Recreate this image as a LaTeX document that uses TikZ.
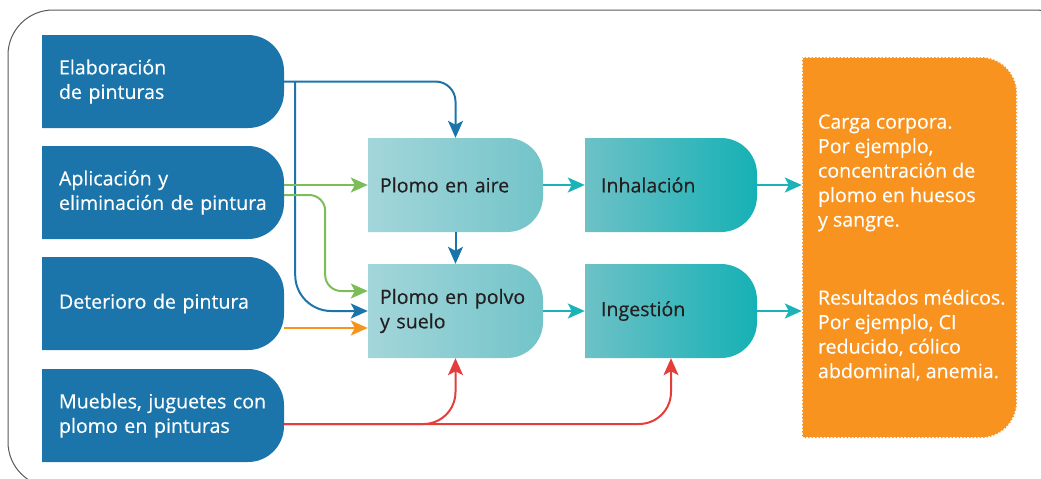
\documentclass[tikz,border=0pt]{standalone}
\usepackage{fontspec}
\setmainfont{Open Sans}
\newfontfamily\boxfam{Open Sans}[FakeBold=0.4]
\usetikzlibrary{arrows.meta}
\definecolor{srcblue}{HTML}{1B75AB}
\definecolor{airleft}{HTML}{A3D6DA}
\definecolor{airright}{HTML}{72C4C9}
\definecolor{inhleft}{HTML}{6DC1C6}
\definecolor{inhright}{HTML}{15B1B5}
\definecolor{tealline}{HTML}{1BB3B8}
\definecolor{greenline}{HTML}{7CBD57}
\definecolor{orangeline}{HTML}{F7941D}
\definecolor{redline}{HTML}{E43D3B}
\definecolor{outorange}{HTML}{F7931E}
\definecolor{darktext}{HTML}{231F20}
\newcommand\boxfont{\boxfam\fontsize{19.6}{24.5}\selectfont}
\tikzset{
  dpath/.style={path picture={
    \path[#1] (path picture bounding box.south west) -- (path picture bounding box.north west)
      -- ([xshift=-36pt]path picture bounding box.north east) arc[start angle=90,end angle=0,radius=36pt]
      -- ([yshift=36pt]path picture bounding box.south east) arc[start angle=0,end angle=-90,radius=36pt]
      -- cycle;}},
  srcbox/.style={dpath={fill=srcblue}, minimum width=242pt, minimum height=93pt,
    inner xsep=17pt, inner ysep=0pt, text width=208pt, align=left, text=white, font=\boxfont},
  airbox/.style={dpath={left color=airleft,right color=airright}, minimum width=175pt, minimum height=94pt,
    inner xsep=12pt, inner ysep=0pt, text width=151pt, align=left, text=darktext, font=\boxfont},
  inhbox/.style={dpath={left color=inhleft,right color=inhright}, minimum width=172pt, minimum height=94pt,
    inner xsep=16pt, inner ysep=0pt, text width=140pt, align=left, text=darktext, font=\boxfont},
  arr/.style={line width=2pt, -{Stealth[length=17pt,width=15pt,inset=4pt]}},
}
\begin{document}
\begin{tikzpicture}[x=1pt,y=-1pt]
  \useasboundingbox (0,0) rectangle (1041,479);
  \begin{scope}
    \clip (0,0) rectangle (1041,479);
    \draw[gray!70!black, line width=1pt, rounded corners=45pt] (8,10) rectangle (1080,487);
  \end{scope}

  \node[srcbox] (elab) at (163,81.5) {Elaboración\\de pinturas};
  \node[srcbox] (apl) at (163,192.5) {Aplicación y\\eliminación de pintura};
  \node[srcbox] (det) at (163,303.5) {Deterioro de pintura};
  \node[srcbox] (mueb) at (163,415.5) {Muebles, juguetes con\\plomo en pinturas};

  \node[airbox] (aire) at (455.5,185) {Plomo en aire};
  \node[airbox] (polvo) at (455.5,311) {Plomo en polvo\\y suelo};
  \node[inhbox] (inh) at (671,185) {Inhalación};
  \node[inhbox] (ing) at (671,311) {Ingestión};

  \node[dpath={fill=outorange,draw=white,line width=1.6pt,dash pattern=on 2pt off 1.5pt},
    minimum width=215pt, minimum height=381pt, inner sep=0pt] (out) at (909.5,247.5) {};
  \node[anchor=west, align=left, text=white, font=\boxfont, inner sep=0pt] (outtxt)
    at ([xshift=16pt]out.west) {Carga corpora.\\Por ejemplo,\\concentración de\\plomo en huesos\\y sangre.\\[53.5pt]
    Resultados médicos.\\Por ejemplo, CI\\reducido, cólico\\abdominal, anemia.};

  \coordinate (bj) at ([xshift=11pt]elab.east);
  \coordinate (gin) at ([yshift=20pt]polvo.west);
  \coordinate (oin) at ([yshift=-17pt]polvo.west);
  \coordinate (rj) at ([yshift=-8.5pt]mueb.east);

  \draw[arr, srcblue, rounded corners=20pt] (elab.east) -| (aire.north);
  \draw[arr, srcblue, rounded corners=36pt] (bj) |- (polvo.west);
  \draw[arr, srcblue] (aire.south) -- (polvo.north);
  \draw[arr, greenline] (apl.east |- aire.west) -- (aire.west);
  \draw[arr, greenline, rounded corners=16pt] ([yshift=-2.5pt]apl.east) -- ++(41,0) |- (gin);
  \draw[arr, orangeline] (det.east |- oin) -- (oin);
  \draw[arr, redline, rounded corners=32pt] (rj) -| (polvo.south);
  \draw[arr, redline, rounded corners=32pt] (rj) -| (ing.south);

  \foreach \a/\b in {aire/inh, polvo/ing} {
    \draw[arr, tealline] (\a.east) -- (\b.west);
    \draw[arr, tealline] (\b.east) -- (\b.east -| out.west);
  }
\end{tikzpicture}
\end{document}
